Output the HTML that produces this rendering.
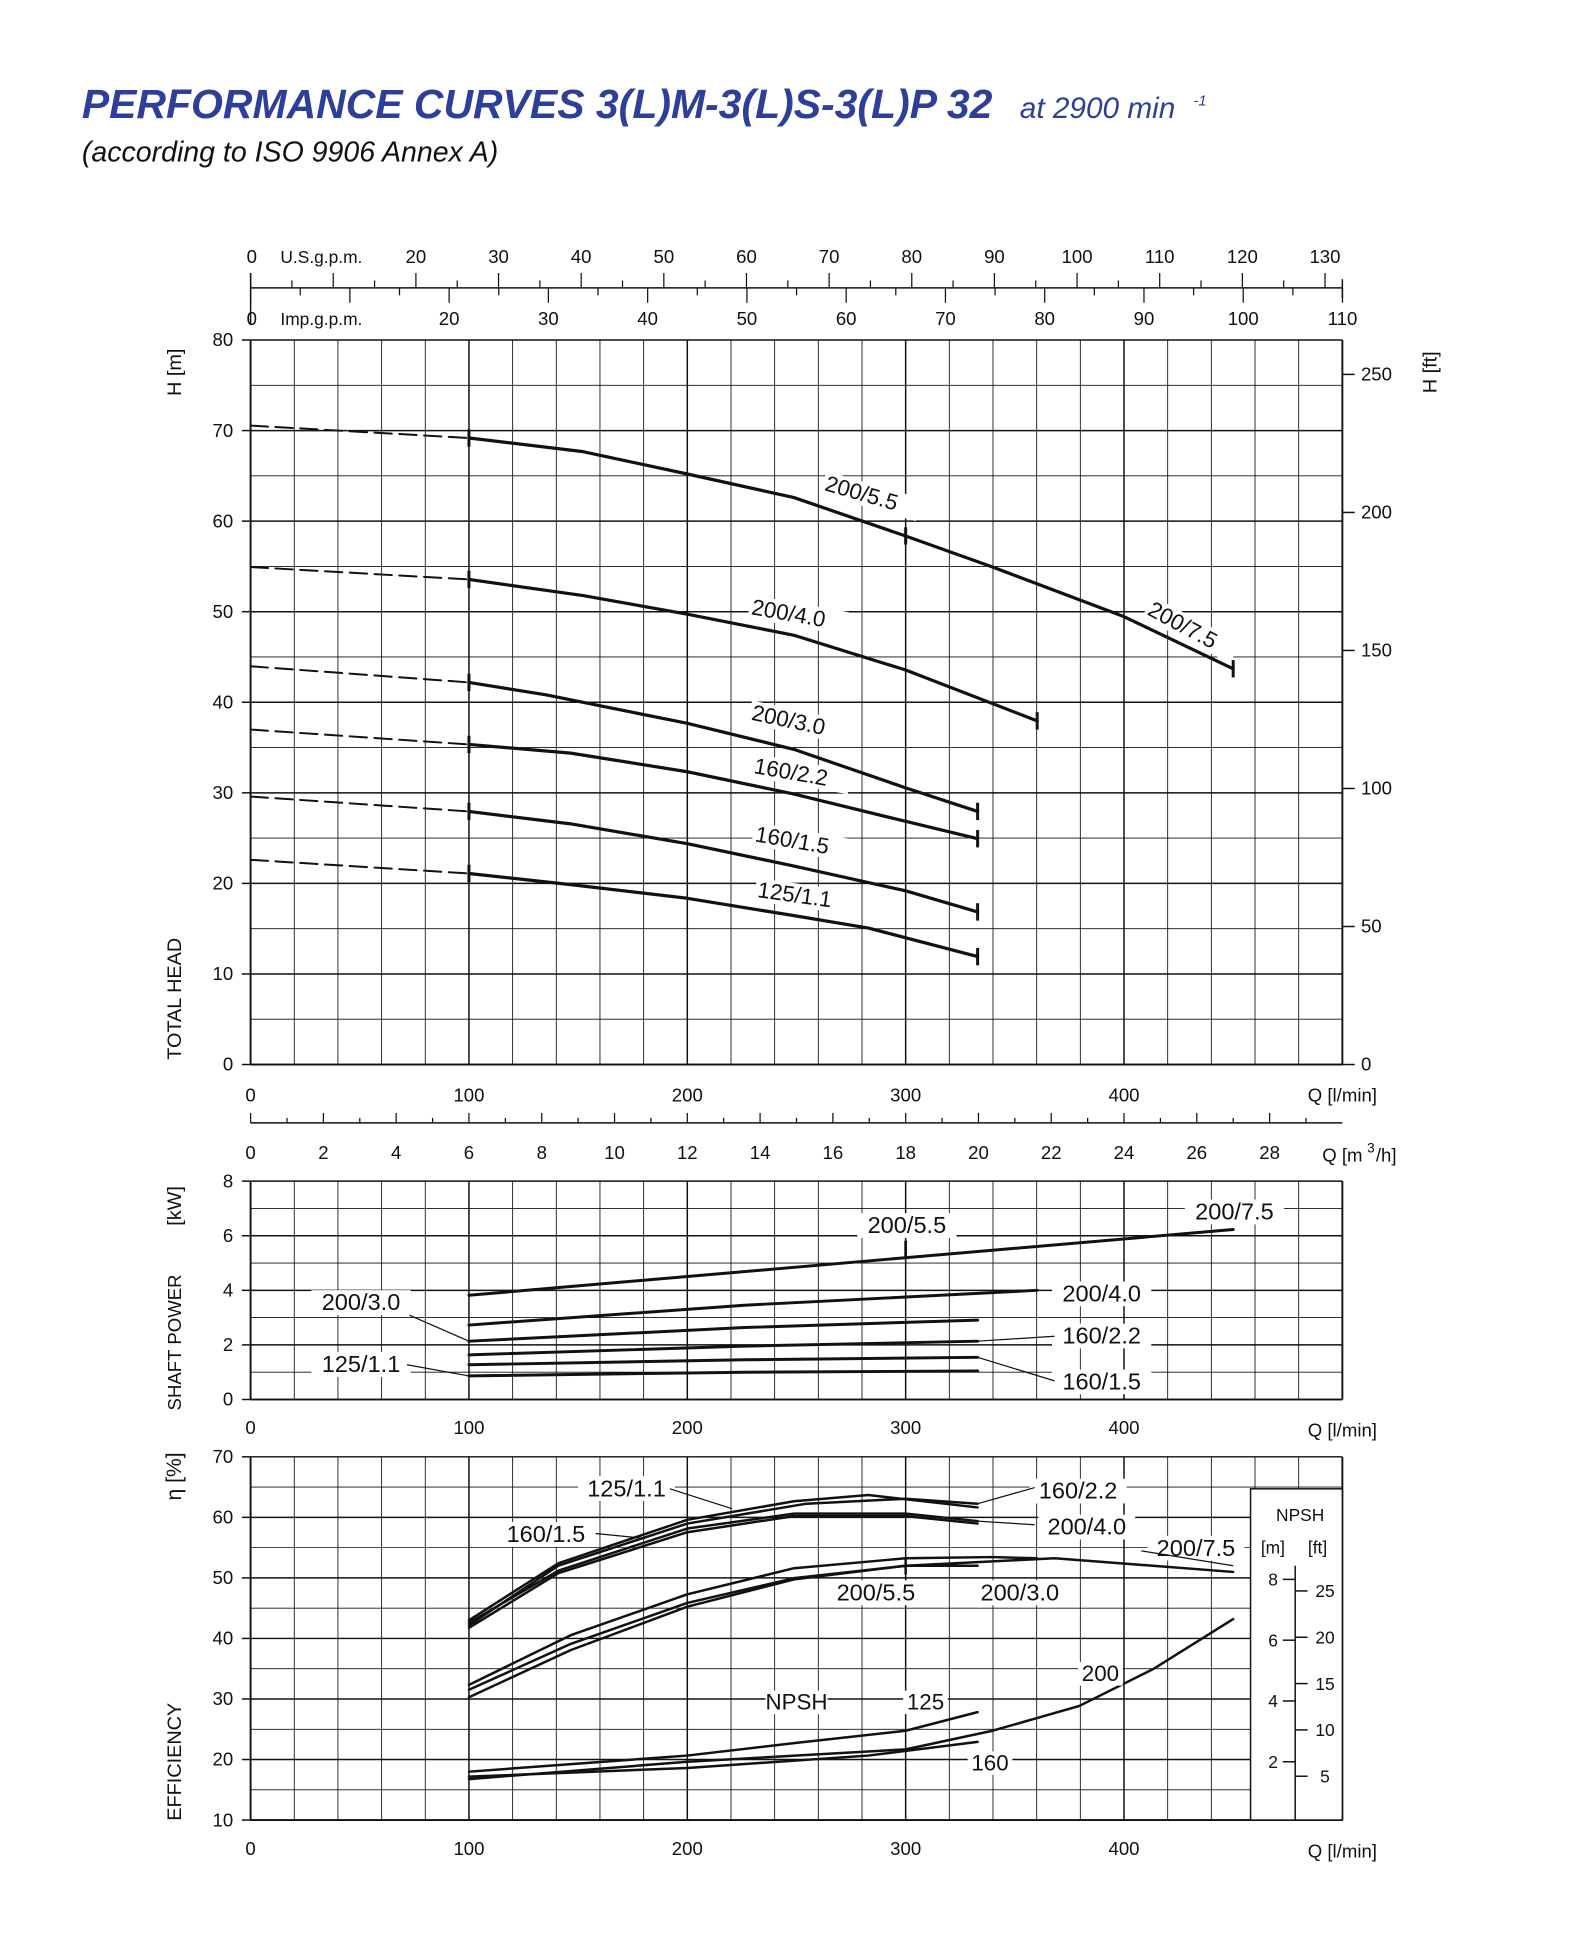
<!DOCTYPE html>
<html><head><meta charset="utf-8"><style>
html,body{margin:0;padding:0;background:#fff}
svg{display:block}
text{font-family:"Liberation Sans","DejaVu Sans",sans-serif;fill:#111}
</style></head><body>
<svg id="s" width="1588" height="1938" viewBox="0 0 1280 1562" xmlns="http://www.w3.org/2000/svg">
<text x="66" y="95" style="font-size:33px;font-weight:bold;font-style:italic;fill:#2e3f99">PERFORMANCE CURVES  3(L)M-3(L)S-3(L)P 32</text>
<text x="822" y="95" style="font-size:24px;font-style:italic;fill:#2e3f99">at 2900 min</text>
<text x="962" y="85" style="font-size:12px;font-style:italic;fill:#2e3f99">-1</text>
<text x="66" y="130" style="font-size:23px;font-style:italic">(according to ISO 9906 Annex A)</text>
<g id="g"></g>
</svg>
<script>
const NS="http://www.w3.org/2000/svg",g=document.getElementById('g');
function el(t,a,txt){const e=document.createElementNS(NS,t);for(const k in a)e.setAttribute(k,a[k]);if(txt!==undefined)e.textContent=txt;g.appendChild(e);return e;}
function ln(x1,y1,x2,y2,w,d){const a={x1,y1,x2,y2,stroke:'#111','stroke-width':w||0.7};if(d)a['stroke-dasharray']=d;el('line',a);}
function tx(x,y,s,sz,anc,rot,bg){const a={x,y,'font-size':sz||15,'text-anchor':anc||'start'};if(rot!==undefined)a.transform=`rotate(${rot} ${x} ${y})`;
 if(bg){const r=el('rect',{x:anc==='middle'?x-bg/2:x-2,y:y-(sz||15)*0.85,width:bg,height:(sz||15)*1.05,fill:'#fff'});if(rot!==undefined)r.setAttribute('transform',`rotate(${rot} ${x} ${y})`);}
 el('text',a,s);}
function pl(pts,w,d){const a={points:pts.map(p=>p.join(',')).join(' '),fill:'none',stroke:'#111','stroke-width':w||2.6,'stroke-linejoin':'round','stroke-linecap':'round'};if(d)a['stroke-dasharray']=d;el('polyline',a);}
const X0=202,X1=1082,qx=q=>X0+q*1.76;
// Main chart
const Y0=858,Y80=274;
for(let i=0;i<=25;i++){const x=X0+i*35.2;ln(x,Y80,x,Y0,i%5==0?1.2:0.7);}
for(let i=0;i<=16;i++){const y=Y0-i*36.5;ln(X0,y,X1,y,i%2==0?1.2:0.7);}
ln(X0,Y80,X0,Y0,1.5);ln(X1,Y80,X1,Y0,1.5);ln(X0,Y0,X1,Y0,1.5);
for(let m=0;m<=80;m+=10){const y=Y0-m*7.3;tx(188,y+5,String(m),15,'end');ln(195,y,X0,y,1.2);}
for(let q=0;q<=400;q+=100){tx(qx(q),888,String(q),15,'middle');}
tx(1082,888,'Q [l/min]',15,'middle');
for(let f=0;f<=250;f+=50){const y=Y0-f*0.3048*7.3;ln(X1,y,X1+10,y,1.2);tx(1097,y+5,String(f),15,'start');}
tx(1158,300,'H [ft]',16,'middle',-90);tx(146,300,'H [m]',16,'middle',-90);tx(146,805,'TOTAL  HEAD',16,'middle',-90);
// top axes
ln(X0,232,X1,232,1.2);ln(X0,220,X0,262,1.2);ln(X1,225,X1,240,1.2);
for(let u=0;u<=130;u+=5){const x=qx(u*3.785);if(x>X1+1)break;ln(x,u%10==0?220:226,x,232,1);}
for(let u=0;u<=110;u+=5){const x=qx(u*4.546);if(x>X1+1)break;ln(x,232,x,u%10==0?244:238,1);}
tx(203,212,'0',15,'middle');tx(226,212,'U.S.g.p.m.',14);
for(let u=20;u<=130;u+=10)tx(qx(u*3.785),212,String(u),15,'middle');
tx(203,262,'0',15,'middle');tx(226,262,'Imp.g.p.m.',14);
for(let u=20;u<=110;u+=10)tx(qx(u*4.546),262,String(u),15,'middle');
// curves
const C=[
 [[202,343],[378,353]],[[378,353],[470,364],[554,382],[640,401],[730,432],[800,457],[906,497],[994,539]],
 [[202,457],[378,467]],[[378,467],[470,480],[554,495],[640,512],[730,540],[836,581]],
 [[202,537],[378,550]],[[378,550],[440,560],[554,583],[640,604],[730,635],[788,654]],
 [[202,588],[378,600]],[[378,600],[460,607],[554,622],[640,640],[730,662],[788,676]],
 [[202,642],[378,654]],[[378,654],[460,664],[554,680],[640,698],[730,718],[788,735]],
 [[202,693],[378,704]],[[378,704],[460,713],[554,724],[640,738],[700,748],[788,771]]];
for(let i=0;i<C.length;i+=2){pl(C[i],1.6,'14,6');pl(C[i+1],2.6);}
[[378,353],[730,432],[994,539],[378,467],[836,581],[378,550],[788,654],[378,600],[788,676],[378,654],[788,735],[378,704],[788,771]].forEach(p=>ln(p[0],p[1]-7,p[0],p[1]+7,2.4));
tx(664,395,'200/5.5',18,'start',16,80);tx(924,495,'200/7.5',18,'start',28,80);tx(605,495,'200/4.0',18,'start',10,80);
tx(605,580,'200/3.0',18,'start',12,80);tx(607,623,'160/2.2',18,'start',10,80);tx(608,678,'160/1.5',18,'start',10,80);tx(610,723,'125/1.1',18,'start',8,80);
// Power chart
const PY0=1128;
ln(X0,905,X1,905,1.2);
for(let h=0;h<=30;h+=1){const x=qx(h*16.667);if(x>X1)break;ln(x,905,x,h%2==0?897:901,1);}
for(let h=0;h<=28;h+=2)tx(qx(h*16.667),934,String(h),15,'middle');
tx(1082,936,'Q [m',15,'middle');tx(1102,929,'3',11);tx(1109,936,'/h]',15);
for(let i=0;i<=25;i++){const x=X0+i*35.2;ln(x,952,x,PY0,i%5==0?1.2:0.7);}
for(let k=0;k<=8;k++){const y=PY0-k*22;ln(X0,y,X1,y,k%2==0?1.2:0.7);}
ln(X0,952,X0,PY0,1.5);ln(X1,952,X1,PY0,1.5);ln(X0,PY0,X1,PY0,1.5);
for(let k=0;k<=8;k+=2){const y=PY0-k*22;tx(188,y+5,String(k),15,'end');ln(195,y,X0,y,1.2);}
for(let q=0;q<=400;q+=100)tx(qx(q),1156,String(q),15,'middle');tx(1082,1158,'Q [l/min]',15,'middle');
tx(146,972,'[kW]',16,'middle',-90);tx(146,1082,'SHAFT POWER',15,'middle',-90);
pl([[378,1044],[994,991]],2.4);ln(730,1000,730,1014,2.2);
pl([[378,1068],[600,1052],[836,1040]],2.4);pl([[378,1081],[600,1070],[788,1064]],2.4);
pl([[378,1092],[600,1085],[788,1081]],2.4);pl([[378,1100],[600,1096],[788,1094]],2.4);pl([[378,1109],[600,1106],[788,1105]],2.4);
tx(731,994,'200/5.5',19,'middle',undefined,80);tx(995,983,'200/7.5',19,'middle',undefined,80);tx(888,1049,'200/4.0',19,'middle',undefined,80);
tx(888,1083,'160/2.2',19,'middle',undefined,80);tx(888,1120,'160/1.5',19,'middle',undefined,80);
tx(291,1056,'200/3.0',19,'middle',undefined,80);tx(291,1106,'125/1.1',19,'middle',undefined,80);
ln(330,1060,378,1081,1);ln(328,1100,378,1109,1);ln(788,1081,850,1077,1);ln(788,1094,850,1113,1);
// Efficiency chart
const EY=p=>1467-(p-10)*4.88;
for(let i=0;i<=25;i++){const x=X0+i*35.2;ln(x,EY(70),x,1467,i%5==0?1.2:0.7);}
for(let p=10;p<=70;p+=5){ln(X0,EY(p),X1,EY(p),p%10==0?1.2:0.7);}
ln(X0,EY(70),X0,1467,1.5);ln(X1,EY(70),X1,1467,1.5);ln(X0,1467,X1,1467,1.5);
for(let p=10;p<=70;p+=10){const y=EY(p);tx(188,y+5,String(p),15,'end');ln(195,y,X0,y,1.2);}
for(let q=0;q<=400;q+=100)tx(qx(q),1495,String(q),15,'middle');tx(1082,1497,'Q [l/min]',15,'middle');
tx(146,1190,'η [%]',17,'middle',-90);tx(146,1420,'EFFICIENCY',16,'middle',-90);
el('rect',{x:1008,y:1200,width:74,height:267,fill:'#fff',stroke:'#111','stroke-width':1.2});
tx(1048,1226,'NPSH',14,'middle');tx(1026,1252,'[m]',14,'middle');tx(1062,1252,'[ft]',14,'middle');
ln(1044,1262,1044,1467,1.2);
for(let m=2;m<=8;m+=2){const y=1469-m*24.5;ln(1034,y,1044,y,1.2);tx(1030,y+5,String(m),14,'end');}
for(let f=5;f<=25;f+=5){const y=1469-f*0.3048*24.5;ln(1044,y,1054,y,1.2);tx(1068,y+5,String(f),14,'middle');}
pl([[378,1306],[450,1260],[554,1225],[640,1210],[700,1205],[788,1215]],2);
pl([[378,1310],[450,1262],[554,1228],[650,1212],[730,1208],[788,1212]],2);
pl([[378,1312],[450,1268],[554,1235],[640,1222],[730,1222],[788,1228]],2);
pl([[378,1308],[450,1266],[554,1232],[640,1220],[730,1220],[788,1226]],2);
pl([[378,1358],[460,1318],[554,1285],[640,1264],[730,1256],[800,1255],[836,1256]],2);
pl([[378,1368],[460,1330],[554,1295],[640,1273],[730,1262],[788,1262]],2);
pl([[378,1362],[460,1325],[554,1292],[640,1272],[730,1262],[850,1256],[994,1267]],2);
ln(730,1255,730,1269,2);
pl([[378,1428],[554,1415],[640,1405],[730,1395],[788,1380]],2);
pl([[378,1432],[554,1425],[700,1415],[788,1404]],2);
pl([[378,1434],[554,1420],[730,1410],[800,1395],[870,1375],[930,1345],[994,1305]],2);
tx(505,1206,'125/1.1',19,'middle',undefined,78);tx(440,1243,'160/1.5',19,'middle',undefined,78);
tx(869,1208,'160/2.2',19,'middle',undefined,78);tx(876,1237,'200/4.0',19,'middle',undefined,78);tx(964,1254,'200/7.5',19,'middle',undefined,78);
tx(706,1290,'200/5.5',19,'middle',undefined,78);tx(822,1290,'200/3.0',19,'middle',undefined,78);
tx(642,1378,'NPSH',18,'middle',undefined,50);tx(746,1378,'125',18,'middle',undefined,36);tx(798,1427,'160',18,'middle',undefined,36);tx(887,1355,'200',18,'middle',undefined,36);
ln(540,1200,590,1216,1);ln(480,1236,520,1240,1);ln(788,1212,834,1199,1);ln(788,1226,834,1229,1);ln(920,1250,994,1262,1);
</script>
</body></html>
